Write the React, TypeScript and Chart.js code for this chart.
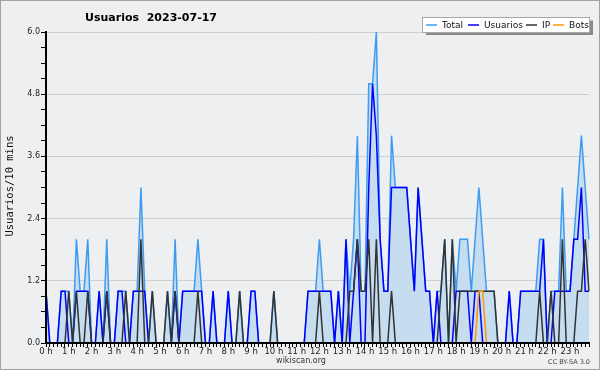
import { useEffect, useRef } from "react";
import { Chart, registerables } from "chart.js";

Chart.register(...registerables);

// Hour tick labels (one category every 10 minutes, 144 per day)
const hourLabels = [
  "0 h", "1 h", "2 h", "3 h", "4 h", "5 h", "6 h", "7 h", "8 h", "9 h", "10 h", "11 h",
  "12 h", "13 h", "14 h", "15 h", "16 h", "17 h", "18 h", "19 h", "20 h", "21 h", "22 h", "23 h",
];

// Values per 10-minute slot
const total = [
  1, 0, 0, 0, 1, 1, 1, 0, 2, 1, 1, 2,
  0, 0, 1, 0, 2, 0, 0, 1, 1, 1, 0, 1,
  1, 3, 1, 0, 1, 0, 0, 0, 1, 0, 2, 0,
  1, 1, 1, 1, 2, 1, 0, 0, 1, 0, 0, 0,
  1, 0, 0, 1, 0, 0, 1, 1, 0, 0, 0, 0,
  1, 0, 0, 0, 0, 0, 0, 0, 0, 1, 1, 1,
  2, 1, 1, 1, 0, 1, 0, 2, 1, 2, 4, 1,
  1, 5, 5, 6, 2, 1, 1, 4, 3, 3, 3, 3,
  2, 1, 3, 2, 1, 1, 0, 1, 1, 2, 0, 2,
  1, 2, 2, 2, 1, 2, 3, 2, 1, 1, 1, 0,
  0, 0, 1, 0, 0, 1, 1, 1, 1, 1, 2, 2,
  0, 1, 1, 1, 3, 1, 1, 2, 3, 4, 3, 2,
];

const usuarios = [
  1, 0, 0, 0, 1, 1, 0, 0, 1, 1, 1, 1,
  0, 0, 1, 0, 1, 0, 0, 1, 1, 0, 0, 1,
  1, 1, 1, 0, 0, 0, 0, 0, 0, 0, 1, 0,
  1, 1, 1, 1, 1, 1, 0, 0, 1, 0, 0, 0,
  1, 0, 0, 0, 0, 0, 1, 1, 0, 0, 0, 0,
  0, 0, 0, 0, 0, 0, 0, 0, 0, 1, 1, 1,
  1, 1, 1, 1, 0, 1, 0, 2, 0, 1, 2, 0,
  0, 3, 5, 4, 2, 1, 1, 3, 3, 3, 3, 3,
  2, 1, 3, 2, 1, 1, 0, 1, 0, 0, 0, 0,
  1, 1, 1, 1, 0, 1, 1, 0, 0, 0, 0, 0,
  0, 0, 1, 0, 0, 1, 1, 1, 1, 1, 1, 2,
  0, 0, 1, 1, 1, 1, 1, 2, 2, 3, 1, 1,
];

const ip = [
  0, 0, 0, 0, 0, 0, 1, 0, 1, 0, 0, 1,
  0, 0, 0, 0, 1, 0, 0, 0, 0, 1, 0, 0,
  0, 2, 0, 0, 1, 0, 0, 0, 1, 0, 1, 0,
  0, 0, 0, 0, 1, 0, 0, 0, 0, 0, 0, 0,
  0, 0, 0, 1, 0, 0, 0, 0, 0, 0, 0, 0,
  1, 0, 0, 0, 0, 0, 0, 0, 0, 0, 0, 0,
  1, 0, 0, 0, 0, 0, 0, 0, 1, 1, 2, 1,
  1, 2, 0, 2, 0, 0, 0, 1, 0, 0, 0, 0,
  0, 0, 0, 0, 0, 0, 0, 0, 1, 2, 0, 2,
  0, 1, 1, 1, 1, 1, 1, 1, 1, 1, 1, 0,
  0, 0, 0, 0, 0, 0, 0, 0, 0, 0, 1, 0,
  0, 1, 0, 0, 2, 0, 0, 0, 1, 1, 2, 1,
];

const bots = [
  0, 0, 0, 0, 0, 0, 0, 0, 0, 0, 0, 0,
  0, 0, 0, 0, 0, 0, 0, 0, 0, 0, 0, 0,
  0, 0, 0, 0, 0, 0, 0, 0, 0, 0, 0, 0,
  0, 0, 0, 0, 0, 0, 0, 0, 0, 0, 0, 0,
  0, 0, 0, 0, 0, 0, 0, 0, 0, 0, 0, 0,
  0, 0, 0, 0, 0, 0, 0, 0, 0, 0, 0, 0,
  0, 0, 0, 0, 0, 0, 0, 0, 0, 0, 0, 0,
  0, 0, 0, 0, 0, 0, 0, 0, 0, 0, 0, 0,
  0, 0, 0, 0, 0, 0, 0, 0, 0, 0, 0, 0,
  0, 0, 0, 0, 0, 0, 1, 1, 0, 0, 0, 0,
  0, 0, 0, 0, 0, 0, 0, 0, 0, 0, 0, 0,
  0, 0, 0, 0, 0, 0, 0, 0, 0, 0, 0, 0,
];

const yTickValues = [
  0, 0.3, 0.6, 0.9, 1.2, 1.5, 1.8, 2.1, 2.4, 2.7, 3.0,
  3.3, 3.6, 3.9, 4.2, 4.5, 4.8, 5.1, 5.4, 5.7, 6.0,
];

const titleText = "Usuarios  2023-07-17";
const yTitle = "Usuarios/10 mins";
const legendItems = [
  { label: "Total", color: "#3d9cf0" },
  { label: "Usuarios", color: "#0000ff" },
  { label: "IP", color: "#333333" },
  { label: "Bots", color: "#ff9900" },
];

const BG = "#eeeff1";
const FONT = '"DejaVu Sans", sans-serif';

const xLabels = Array.from({ length: total.length }, (_, i) =>
  i % 6 === 0 ? hourLabels[i / 6] : ""
);

const decor = {
  id: "decor",
  beforeDraw(chart: any) {
    const { ctx, width, height } = chart;
    ctx.save();
    ctx.fillStyle = BG;
    ctx.fillRect(0, 0, width, height);
    ctx.restore();
  },
  afterDraw(chart: any) {
    const { ctx, width, height } = chart;
    ctx.save();
    // frame
    ctx.strokeStyle = "#a0a0a0";
    ctx.lineWidth = 1;
    ctx.strokeRect(0.5, 0.5, width - 1, height - 1);

    // title
    ctx.fillStyle = "#000";
    ctx.font = "bold 11px " + FONT;
    ctx.textAlign = "center";
    ctx.textBaseline = "alphabetic";
    ctx.fillText(titleText, 151, 21);

    // legend box with shadow
    ctx.fillStyle = "#8a8a8a";
    ctx.fillRect(426, 20.5, 167, 14.5);
    ctx.fillStyle = "#ffffff";
    ctx.fillRect(422, 17, 167.5, 15.5);
    ctx.strokeStyle = "#a8a8a8";
    ctx.strokeRect(422.5, 17.5, 167, 15);
    const lx = [426, 468, 526, 553];
    ctx.font = "9px " + FONT;
    ctx.textAlign = "left";
    ctx.textBaseline = "middle";
    legendItems.forEach((it, k) => {
      ctx.strokeStyle = it.color;
      ctx.lineWidth = 1.5;
      ctx.beginPath();
      ctx.moveTo(lx[k], 25);
      ctx.lineTo(lx[k] + 11, 25);
      ctx.stroke();
      ctx.fillStyle = "#111";
      ctx.fillText(it.label, lx[k] + 16, 25.5);
    });

    // y axis title
    ctx.save();
    ctx.translate(10, 186);
    ctx.rotate(-Math.PI / 2);
    ctx.textAlign = "center";
    ctx.textBaseline = "middle";
    ctx.font = '10.5px "DejaVu Sans Mono", monospace';
    ctx.fillStyle = "#111";
    ctx.fillText(yTitle, 0, 0);
    ctx.restore();

    // footer
    ctx.fillStyle = "#333";
    ctx.font = "8px " + FONT;
    ctx.textAlign = "center";
    ctx.textBaseline = "middle";
    ctx.fillText("wikiscan.org", 301, 361);
    ctx.font = "6.5px " + FONT;
    ctx.textAlign = "right";
    ctx.fillStyle = "#444";
    ctx.fillText("CC BY-SA 3.0", 590, 362);
    ctx.restore();
  },
};

export default function App() {
  const ref = useRef<HTMLCanvasElement | null>(null);

  useEffect(() => {
    document.body.style.margin = "0";
    const canvas = ref.current;
    if (!canvas) return;
    const common = { pointRadius: 0, pointHoverRadius: 0, tension: 0, borderWidth: 1.5 };
    const chart = new Chart(canvas, {
      type: "line",
      data: {
        labels: xLabels,
        datasets: [
          {
            label: "Total",
            data: total,
            borderColor: "#3d9cf0",
            backgroundColor: "#c6dcef",
            fill: "origin",
            order: 4,
            ...common,
          },
          { label: "Usuarios", data: usuarios, borderColor: "#0000ff", fill: false, order: 3, ...common },
          { label: "IP", data: ip, borderColor: "#333333", fill: false, order: 2, ...common },
          { label: "Bots", data: bots, borderColor: "#ff9900", fill: false, order: 1, ...common },
        ],
      },
      options: {
        animation: false,
        responsive: false,
        maintainAspectRatio: false,
        devicePixelRatio: 1,
        layout: { padding: { top: 32, right: 11, left: 0, bottom: 0 } },
        plugins: {
          legend: { display: false },
          title: { display: false },
          tooltip: { enabled: false },
        },
        scales: {
          x: {
            type: "category",
            offset: false,
            grid: {
              drawOnChartArea: false,
              drawTicks: true,
              tickLength: 4,
              color: "#000",
              tickColor: "#000",
            },
            border: { display: true, color: "#000", width: 2, z: 1 },
            ticks: {
              autoSkip: false,
              maxRotation: 0,
              minRotation: 0,
              padding: 0,
              color: "#222",
              font: { size: 8.5, family: FONT },
            },
            afterFit: (s: any) => {
              s.height = 27;
            },
          },
          y: {
            type: "linear",
            min: 0,
            max: 6,
            afterBuildTicks: (s: any) => {
              s.ticks = yTickValues.map((v) => ({ value: v }));
            },
            grid: {
              drawOnChartArea: false,
              tickColor: "#000",
              tickLength: 5,
              drawTicks: true,
            },
            border: { display: true, color: "#000", width: 2, z: 1 },
            ticks: {
              padding: 1,
              color: "#222",
              font: { size: 8, family: FONT },
              callback: (v: any, i: number) => (i % 4 === 0 ? Number(v).toFixed(1) : ""),
            },
            afterFit: (s: any) => {
              s.width = 46;
            },
          },
          yGrid: {
            type: "linear",
            display: true,
            position: "right",
            min: 0,
            max: 6,
            afterBuildTicks: (s: any) => {
              s.ticks = yTickValues.map((v) => ({ value: v }));
            },
            grid: {
              drawOnChartArea: true,
              drawTicks: false,
              color: (c: any) => (c.index % 4 === 0 && c.index > 0 ? "#cfcfcf" : "rgba(0,0,0,0)"),
            },
            border: { display: false },
            ticks: { display: false },
            afterFit: (s: any) => {
              s.width = 0;
            },
          },
        },
      },
      plugins: [decor],
    });
    return () => chart.destroy();
  }, []);

  return <canvas ref={ref} width={600} height={370} style={{ display: "block" }} />;
}
